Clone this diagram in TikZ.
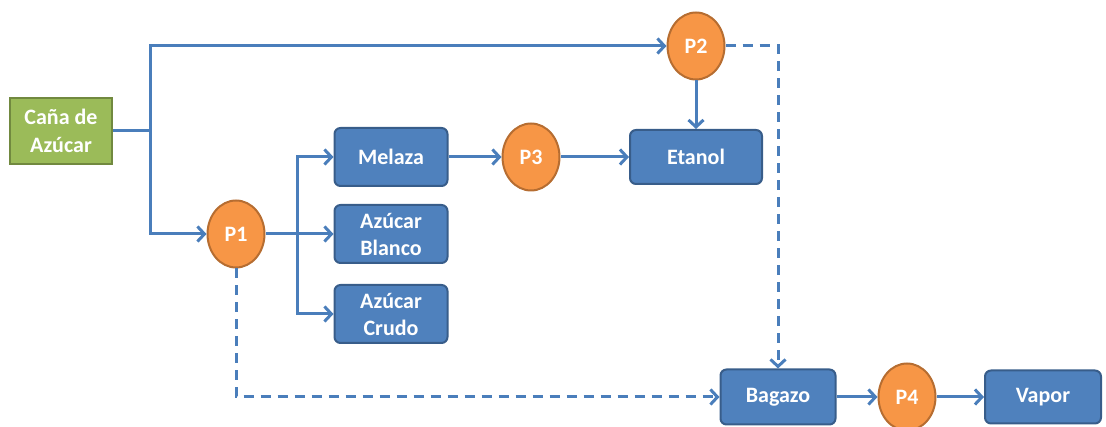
\documentclass[tikz,border=0pt]{standalone}
\usepackage{fontspec}
\setmainfont{Carlito}
\usetikzlibrary{arrows.meta,shapes.geometric}
\definecolor{boxblue}{HTML}{4F81BD}
\definecolor{boxblueedge}{HTML}{385D8A}
\definecolor{leafgreen}{HTML}{9BBB59}
\definecolor{leafgreenedge}{HTML}{71893F}
\definecolor{procorange}{HTML}{F79646}
\definecolor{procorangeedge}{HTML}{B66D31}
\definecolor{flow}{HTML}{4A7EBB}
\tikzset{
  prodbox/.style={draw=boxblueedge, fill=boxblue, line width=2pt, rounded corners=6pt,
    text=white, font=\bfseries\fontsize{22}{27}\selectfont, align=center, inner sep=0pt},
  srcbox/.style={draw=leafgreenedge, fill=leafgreen, line width=2pt,
    text=white, font=\bfseries\fontsize{22}{28}\selectfont, align=center, inner sep=0pt,
    minimum width=102pt, minimum height=66pt},
  proc/.style={ellipse, draw=procorangeedge, fill=procorange, line width=2pt,
    text=white, font=\bfseries\fontsize{22}{26}\selectfont, inner sep=0pt,
    minimum width=57pt, minimum height=67pt},
  flowline/.style={draw=flow, line width=3pt},
  flowarrow/.style={flowline, -{Straight Barb[length=7pt,width=15pt,line width=3pt]}},
  byproduct/.style={flowarrow, dash pattern=on 10pt off 7pt}
}
\begin{document}
\begin{tikzpicture}[x=1pt,y=-1pt]
\useasboundingbox (0,0) rectangle (1106,427);

% sugar cane source
\node[srcbox] (cana) at (61,131) {Caña de\\Azúcar};

% processes
\node[proc] (p1) at (236,234) {P1};
\node[proc] (p2) at (696,46) {P2};
\node[proc] (p3) at (531,157) {P3};
\node[proc] (p4) at (907,397) {P4};

% products
\node[prodbox, minimum width=113pt, minimum height=58pt] (melaza) at (391,157) {Melaza};
\node[prodbox, minimum width=113pt, minimum height=58pt] (blanco) at (391,234) {Azúcar\\Blanco};
\node[prodbox, minimum width=113pt, minimum height=58pt] (crudo) at (391,314) {Azúcar\\Crudo};
\node[prodbox, minimum width=132pt, minimum height=54pt] (etanol) at (696,157) {Etanol};
\node[prodbox, minimum width=115pt, minimum height=55pt] (bagazo) at (778,397) {Bagazo};
\node[prodbox, minimum width=116pt, minimum height=53pt] (vapor) at (1043,397) {Vapor};

% split of the cane stream
\coordinate (split) at (150,131);
\coordinate (fork) at (297,234);
\draw[flowline] (cana.east) -- (split);
\draw[flowarrow] (split) |- (p2.west);
\draw[flowarrow] (split) |- (p1.west);

% P1 outputs
\draw[flowline] (p1.east) -- (fork);
\draw[flowarrow] (fork) |- (melaza.west);
\draw[flowarrow] (fork) -- (blanco.west);
\draw[flowarrow] (fork) |- (crudo.west);

% ethanol route
\draw[flowarrow] (melaza.east) -- (p3.west);
\draw[flowarrow] (p3.east) -- (etanol.west);
\draw[flowarrow] (p2.south) -- (etanol.north);

% bagasse streams
\draw[byproduct] (p2.east) -| (bagazo.north);
\draw[byproduct] (p1.south) |- (bagazo.west);

% steam generation
\draw[flowarrow] (bagazo.east) -- (p4.west);
\draw[flowarrow] (p4.east) -- (vapor.west);
\end{tikzpicture}
\end{document}
